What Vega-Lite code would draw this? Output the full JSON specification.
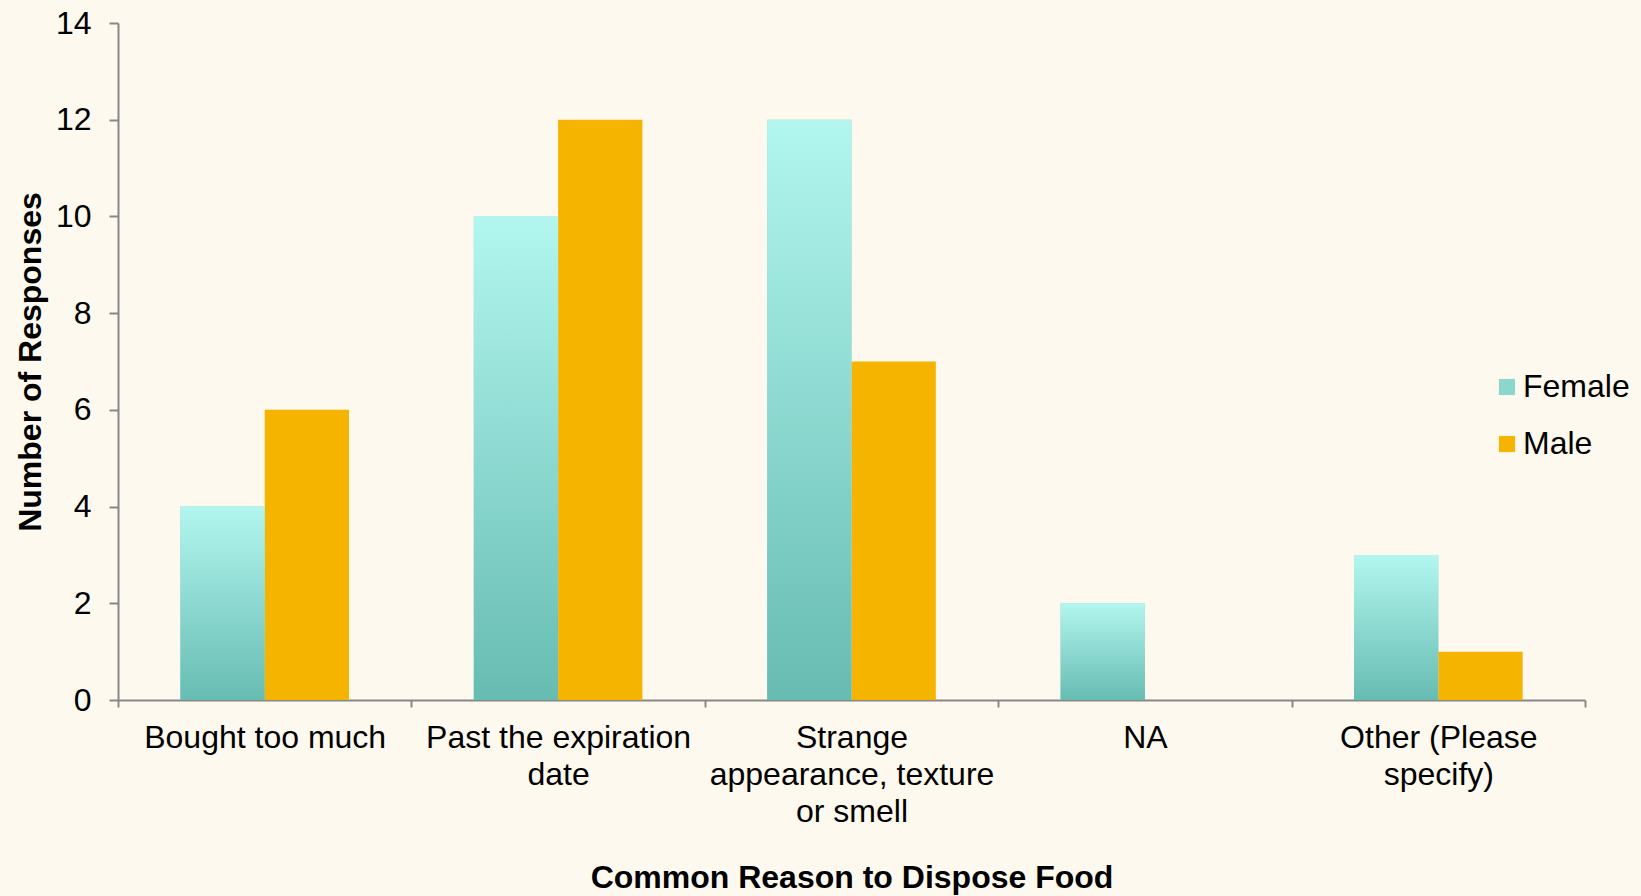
{
  "$schema": "https://vega.github.io/schema/vega-lite/v6.json",
  "autosize": "none",
  "width": 1467,
  "height": 677,
  "padding": {"left": 118, "top": 23, "right": 56, "bottom": 196},
  "background": "#FDF9EF",
  "config": {
    "view": {"stroke": null},
    "font": "Liberation Sans",
    "axis": {"labelFont": "Liberation Sans", "titleFont": "Liberation Sans", "labelColor": "#000", "titleColor": "#000", "domainColor": "#888888", "tickColor": "#888888", "domainWidth": 2, "tickWidth": 2, "grid": false, "labelFontSize": 32, "titleFontSize": 32, "titleFontWeight": "bold", "labelLimit": 0},
    "legend": {"labelFont": "Liberation Sans", "labelFontSize": 32, "labelColor": "#000", "labelLimit": 0}
  },
  "data": {
    "values": [
      {"reason": "Bought too much", "gender": "Female", "count": 4},
      {"reason": "Bought too much", "gender": "Male", "count": 6},
      {"reason": "Past the expiration date", "gender": "Female", "count": 10},
      {"reason": "Past the expiration date", "gender": "Male", "count": 12},
      {"reason": "Strange appearance, texture or smell", "gender": "Female", "count": 12},
      {"reason": "Strange appearance, texture or smell", "gender": "Male", "count": 7},
      {"reason": "NA", "gender": "Female", "count": 2},
      {"reason": "NA", "gender": "Male", "count": 0},
      {"reason": "Other (Please specify)", "gender": "Female", "count": 3},
      {"reason": "Other (Please specify)", "gender": "Male", "count": 1}
    ]
  },
  "encoding": {
    "x": {
      "field": "reason", "type": "nominal", "sort": null,
      "scale": {"paddingInner": 0, "paddingOuter": 0},
      "axis": {
        "title": "Common Reason to Dispose Food",
        "labelAngle": 0, "tickBand": "extent", "tickSize": 7,
        "labelBaseline": "top", "labelPadding": 15, "labelLineHeight": 37,
        "labelExpr": "datum.value == 'Past the expiration date' ? ['Past the expiration', 'date'] : datum.value == 'Strange appearance, texture or smell' ? ['Strange', 'appearance, texture', 'or smell'] : datum.value == 'Other (Please specify)' ? ['Other (Please', 'specify)'] : datum.value",
        "titleBaseline": "middle", "titleY": 177
      }
    },
    "xOffset": {"field": "gender", "type": "nominal", "scale": {"domain": ["Female", "Male"], "paddingInner": 0, "paddingOuter": 0.74}},
    "y": {
      "field": "count", "type": "quantitative",
      "scale": {"domain": [0, 14]},
      "axis": {"title": "Number of Responses", "values": [0, 2, 4, 6, 8, 10, 12, 14], "tickSize": 9, "labelPadding": 18, "titleX": -88, "titleBaseline": "middle"}
    }
  },
  "layer": [
    {
      "mark": {"type": "bar"},
      "encoding": {
        "fill": {
          "field": "gender", "type": "nominal",
          "scale": {"domain": ["Female", "Male"], "range": ["#8CD6CD", "#F5B400"]},
          "legend": {
            "title": null, "orient": "none", "legendX": 1373, "legendY": 348,
            "symbolType": "square", "symbolSize": 260, "symbolStrokeWidth": 0, "rowPadding": 25, "labelOffset": 0
          }
        }
      }
    },
    {
      "transform": [{"filter": "datum.gender === 'Female'"}],
      "mark": {"type": "bar", "fill": {"gradient": "linear", "x1": 0, "y1": 0, "x2": 0, "y2": 1, "stops": [{"offset": 0, "color": "#B2F6EF"}, {"offset": 1, "color": "#67BCB2"}]}}
    }
  ]
}
